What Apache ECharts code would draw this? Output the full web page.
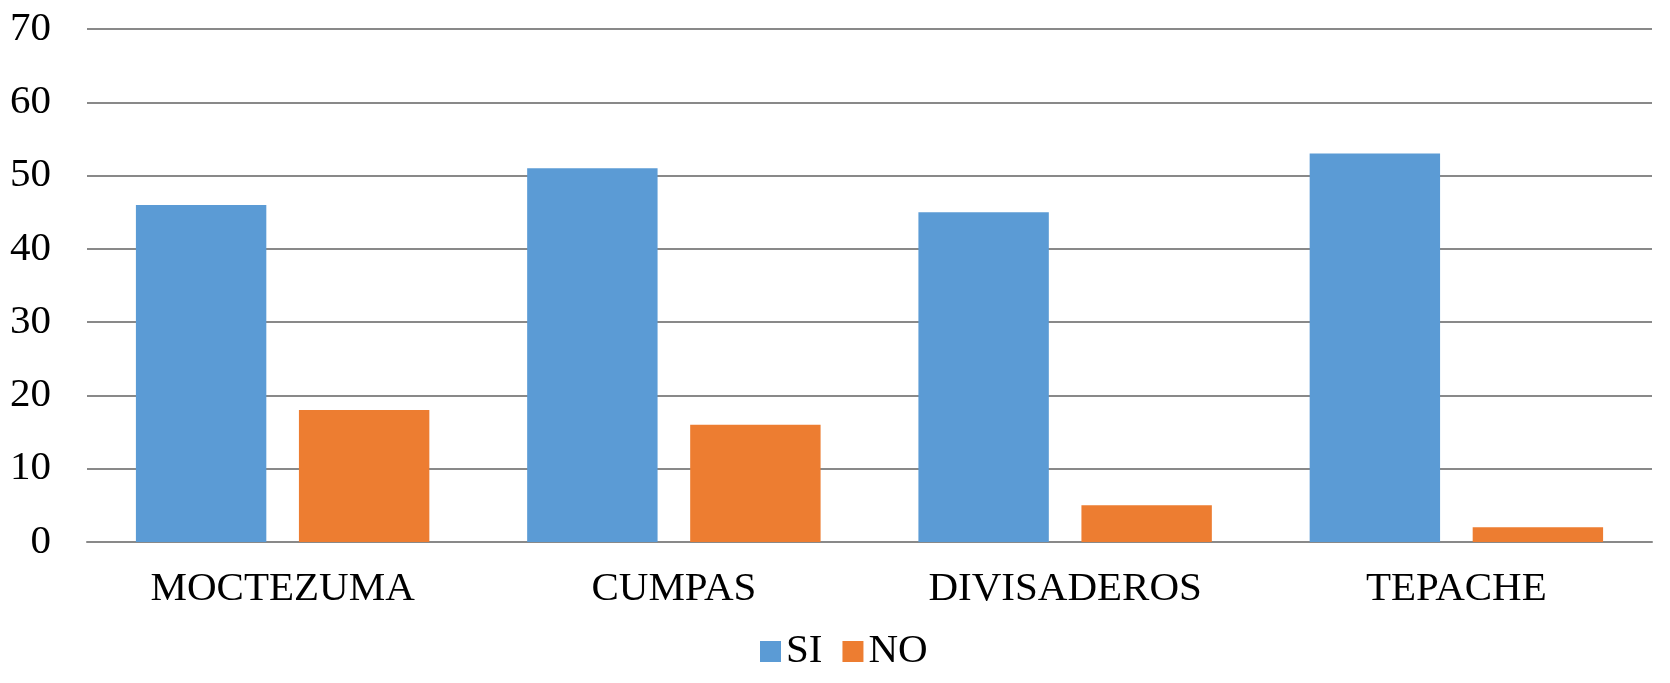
<!DOCTYPE html>
<html>
<head>
<meta charset="utf-8">
<script src="https://cdn.jsdelivr.net/npm/echarts@6/dist/echarts.min.js"></script>
<style>
  html, body { margin: 0; padding: 0; background: #fff; }
  #chart { width: 1670px; height: 683px; }
</style>
</head>
<body>
<div id="chart"></div>
<script>
const categories = ['MOCTEZUMA', 'CUMPAS', 'DIVISADEROS', 'TEPACHE'];
const siValues = [46, 51, 45, 53];
const noValues = [18, 16, 5, 2];

const font = '"Liberation Serif", "Times New Roman", serif';

const chart = echarts.init(document.getElementById('chart'));
chart.setOption({
    animation: false,
    grid: { left: 87, right: 18, top: 29, bottom: 141, containLabel: false },
    legend: {
        left: 760,
        top: 631,
        padding: 0,
        itemWidth: 21,
        itemHeight: 21,
        itemGap: 20,
        icon: 'rect',
        textStyle: { fontFamily: font, fontSize: 41, color: '#000', padding: [0, 0, 0, 0] },
        data: ['SI', 'NO']
    },
    xAxis: {
        type: 'category',
        data: categories,
        axisTick: { show: false },
        axisLine: { lineStyle: { color: '#898989', width: 2 } },
        axisLabel: { fontFamily: font, fontSize: 41, color: '#000', margin: 27 }
    },
    yAxis: {
        type: 'value',
        min: 0,
        max: 70,
        interval: 10,
        axisLine: { show: false },
        axisTick: { show: false },
        splitLine: { lineStyle: { color: '#898989', width: 2 } },
        axisLabel: { fontFamily: font, fontSize: 41, color: '#000', margin: 36 }
    },
    series: [
        {
            name: 'SI',
            type: 'bar',
            data: siValues,
            barGap: '25%',
            barCategoryGap: '25%',
            itemStyle: { color: '#5B9BD5' }
        },
        {
            name: 'NO',
            type: 'bar',
            data: noValues,
            itemStyle: { color: '#ED7D31' }
        }
    ]
});
</script>
</body>
</html>
